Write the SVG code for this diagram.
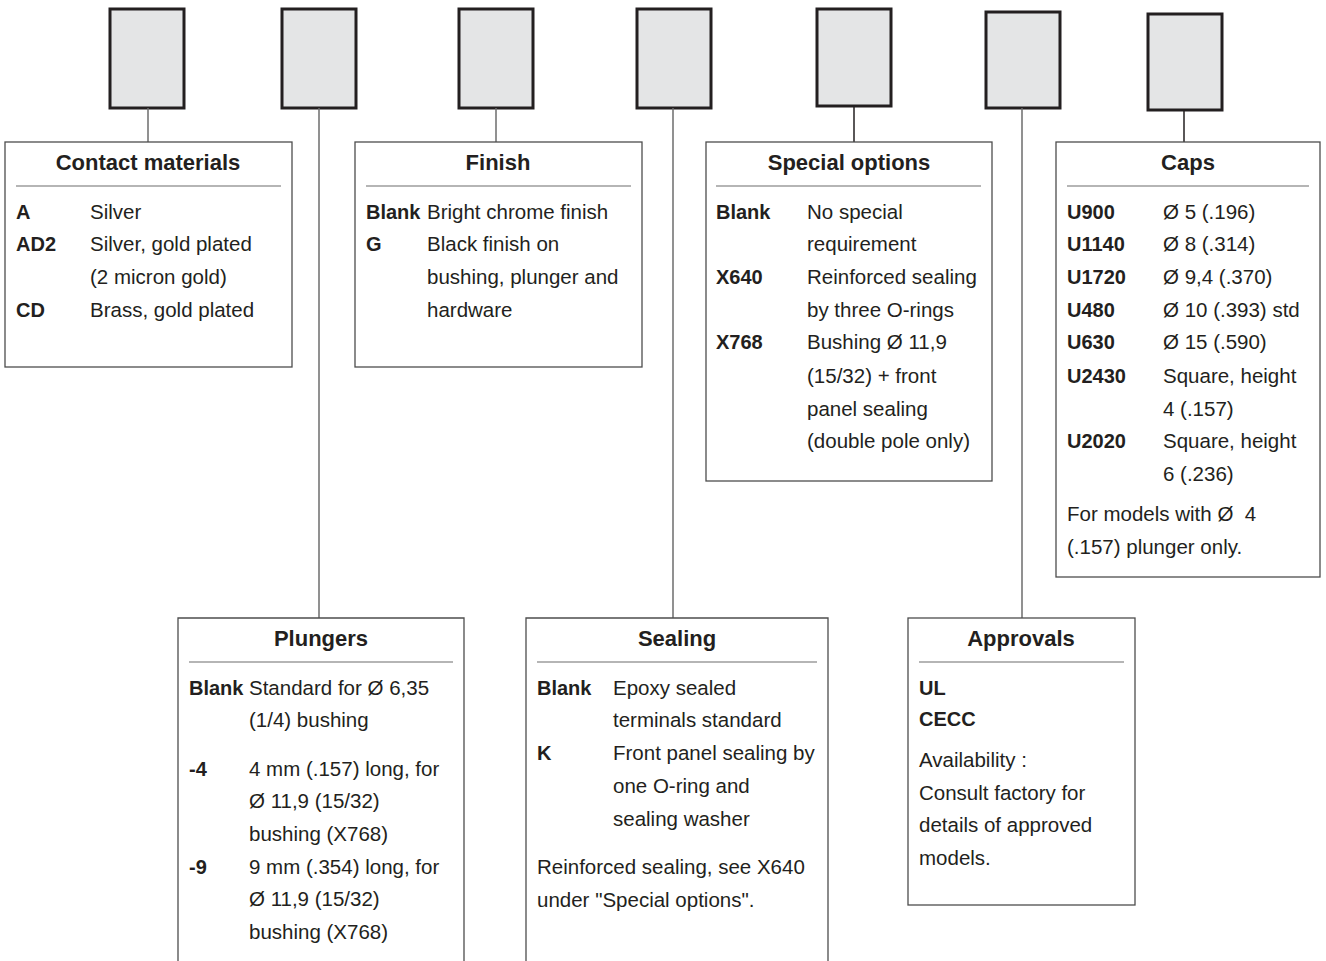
<svg xmlns="http://www.w3.org/2000/svg" width="1326" height="961" viewBox="0 0 1326 961">
<style>
.sq{fill:#e4e5e6;stroke:#231f20;stroke-width:3}
.bx{fill:#fff;stroke:#4d4d4d;stroke-width:1.3}
.sep{stroke:#6d6d6d;stroke-width:1.2}
.cn{stroke:#6d6d6d;stroke-width:1.5;fill:none}
.cd{stroke:#231f20}
text{font-family:"Liberation Sans",Arial,sans-serif;fill:#231f20}
.t{font-size:22px;font-weight:bold;text-anchor:middle}
.b{font-size:20px;font-weight:bold}
.d{font-size:20.5px}
</style>
<rect width="1326" height="961" fill="#fff"/>
<g id="slots">
<rect class="sq" x="110" y="9" width="74" height="99"/>
<rect class="sq" x="282" y="9" width="74" height="99"/>
<rect class="sq" x="459" y="9" width="74" height="99"/>
<rect class="sq" x="637" y="9" width="74" height="99"/>
<rect class="sq" x="817" y="9" width="74" height="97"/>
<rect class="sq" x="986" y="12" width="74" height="96"/>
<rect class="sq" x="1148" y="14" width="74" height="96"/>
</g>
<g id="connectors">
<line class="cn" x1="148" y1="108" x2="148" y2="142"/>
<line class="cn" x1="319" y1="108" x2="319" y2="618"/>
<line class="cn" x1="496" y1="108" x2="496" y2="142"/>
<line class="cn" x1="673" y1="108" x2="673" y2="618"/>
<line class="cn cd" x1="854" y1="106" x2="854" y2="142"/>
<line class="cn" x1="1022" y1="108" x2="1022" y2="618"/>
<line class="cn cd" x1="1184" y1="110" x2="1184" y2="142"/>
</g>
<g id="contact-materials">
<rect class="bx" x="5" y="142" width="287" height="225"/>
<text class="t" x="148" y="170">Contact materials</text>
<line class="sep" x1="16" y1="186" x2="281" y2="186"/>
<text class="b" x="16" y="219">A</text><text class="d" x="90" y="219">Silver</text>
<text class="b" x="16" y="251">AD2</text><text class="d" x="90" y="251">Silver, gold plated</text>
<text class="d" x="90" y="284">(2 micron gold)</text>
<text class="b" x="16" y="317">CD</text><text class="d" x="90" y="317">Brass, gold plated</text>
</g>
<g id="finish">
<rect class="bx" x="355" y="142" width="287" height="225"/>
<text class="t" x="498" y="170">Finish</text>
<line class="sep" x1="366" y1="186" x2="631" y2="186"/>
<text class="b" x="366" y="219">Blank</text><text class="d" x="427" y="219">Bright chrome finish</text>
<text class="b" x="366" y="251">G</text><text class="d" x="427" y="251">Black finish on</text>
<text class="d" x="427" y="284">bushing, plunger and</text>
<text class="d" x="427" y="317">hardware</text>
</g>
<g id="special-options">
<rect class="bx" x="706" y="142" width="286" height="339"/>
<text class="t" x="849" y="170">Special options</text>
<line class="sep" x1="716" y1="186" x2="981" y2="186"/>
<text class="b" x="716" y="219">Blank</text><text class="d" x="807" y="219">No special</text>
<text class="d" x="807" y="251">requirement</text>
<text class="b" x="716" y="284">X640</text><text class="d" x="807" y="284">Reinforced sealing</text>
<text class="d" x="807" y="317">by three O-rings</text>
<text class="b" x="716" y="349">X768</text><text class="d" x="807" y="349">Bushing Ø 11,9</text>
<text class="d" x="807" y="383">(15/32) + front</text>
<text class="d" x="807" y="416">panel sealing</text>
<text class="d" x="807" y="448">(double pole only)</text>
</g>
<g id="caps">
<rect class="bx" x="1056" y="142" width="264" height="435"/>
<text class="t" x="1188" y="170">Caps</text>
<line class="sep" x1="1067" y1="186" x2="1309" y2="186"/>
<text class="b" x="1067" y="219">U900</text><text class="d" x="1163" y="219">Ø 5 (.196)</text>
<text class="b" x="1067" y="251">U1140</text><text class="d" x="1163" y="251">Ø 8 (.314)</text>
<text class="b" x="1067" y="284">U1720</text><text class="d" x="1163" y="284">Ø 9,4 (.370)</text>
<text class="b" x="1067" y="317">U480</text><text class="d" x="1163" y="317">Ø 10 (.393) std</text>
<text class="b" x="1067" y="349">U630</text><text class="d" x="1163" y="349">Ø 15 (.590)</text>
<text class="b" x="1067" y="383">U2430</text><text class="d" x="1163" y="383">Square, height</text>
<text class="d" x="1163" y="416">4 (.157)</text>
<text class="b" x="1067" y="448">U2020</text><text class="d" x="1163" y="448">Square, height</text>
<text class="d" x="1163" y="481">6 (.236)</text>
<text class="d" x="1067" y="521">For models with Ø&#160; 4</text>
<text class="d" x="1067" y="554">(.157) plunger only.</text>
</g>
<g id="plungers">
<path class="bx" d="M178,965 V618 H464 V965"/>
<text class="t" x="321" y="646">Plungers</text>
<line class="sep" x1="189" y1="662" x2="453" y2="662"/>
<text class="b" x="189" y="695">Blank</text><text class="d" x="249" y="695">Standard for Ø 6,35</text>
<text class="d" x="249" y="727">(1/4) bushing</text>
<text class="b" x="189" y="776">-4</text><text class="d" x="249" y="776">4 mm (.157) long, for</text>
<text class="d" x="249" y="808">Ø 11,9 (15/32)</text>
<text class="d" x="249" y="841">bushing (X768)</text>
<text class="b" x="189" y="874">-9</text><text class="d" x="249" y="874">9 mm (.354) long, for</text>
<text class="d" x="249" y="906">Ø 11,9 (15/32)</text>
<text class="d" x="249" y="939">bushing (X768)</text>
</g>
<g id="sealing">
<path class="bx" d="M526,965 V618 H828 V965"/>
<text class="t" x="677" y="646">Sealing</text>
<line class="sep" x1="537" y1="662" x2="817" y2="662"/>
<text class="b" x="537" y="695">Blank</text><text class="d" x="613" y="695">Epoxy sealed</text>
<text class="d" x="613" y="727">terminals standard</text>
<text class="b" x="537" y="760">K</text><text class="d" x="613" y="760">Front panel sealing by</text>
<text class="d" x="613" y="793">one O-ring and</text>
<text class="d" x="613" y="826">sealing washer</text>
<text class="d" x="537" y="874">Reinforced sealing, see X640</text>
<text class="d" x="537" y="907">under "Special options".</text>
</g>
<g id="approvals">
<rect class="bx" x="908" y="618" width="227" height="287"/>
<text class="t" x="1021" y="646">Approvals</text>
<line class="sep" x1="919" y1="662" x2="1124" y2="662"/>
<text class="b" x="919" y="695">UL</text>
<text class="b" x="919" y="726">CECC</text>
<text class="d" x="919" y="767">Availability :</text>
<text class="d" x="919" y="800">Consult factory for</text>
<text class="d" x="919" y="832">details of approved</text>
<text class="d" x="919" y="865">models.</text>
</g>
</svg>
